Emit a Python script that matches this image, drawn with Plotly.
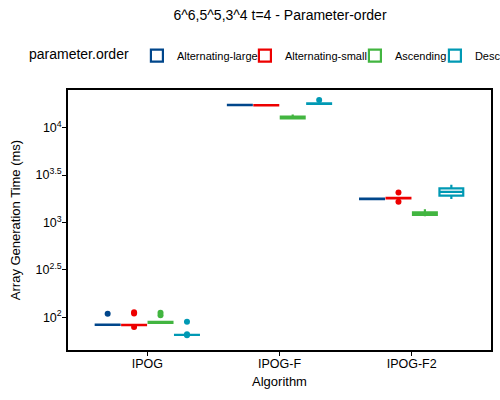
import plotly.graph_objects as go

algorithms = ["IPOG", "IPOG-F", "IPOG-F2"]
series_names = ["Alternating-large", "Alternating-small", "Ascending", "Descending"]
series_colors = ["#00468B", "#ED0000", "#42B540", "#0099B4"]

# observed array generation times (ms), per algorithm, per parameter order
alt_large = {
    "IPOG": [82.9, 83.1, 83.2, 83.3, 83.4, 83.4, 83.5, 83.6, 83.7, 83.9, 109],
    "IPOG-F": [17200, 17280, 17300, 17320, 17340, 17340, 17360, 17380, 17400, 17480],
    "IPOG-F2": [1755, 1765, 1768, 1772, 1775, 1776, 1778, 1782, 1785, 1795],
}
alt_small = {
    "IPOG": [79.0, 82.5, 82.6, 82.7, 82.8, 82.8, 82.9, 83.0, 83.1, 83.2, 110, 113],
    "IPOG-F": [17080, 17160, 17180, 17200, 17220, 17220, 17240, 17260, 17280, 17360],
    "IPOG-F2": [1652, 1795, 1798, 1802, 1806, 1808, 1811, 1815, 1818, 2070],
}
ascending = {
    "IPOG": [85.8, 86.5, 87.0, 87.5, 88.0, 88.0, 88.5, 89.0, 89.5, 90.2, 105, 112],
    "IPOG-F": [12300, 12450, 12550, 12650, 12740, 12740, 12900, 13050, 13200, 13800],
    "IPOG-F2": [1161, 1190, 1200, 1215, 1250, 1256, 1265, 1280, 1300, 1384],
}
descending = {
    "IPOG": [64.6, 65.4, 65.45, 65.48, 65.5, 65.5, 65.52, 65.55, 65.6, 66.4, 90],
    "IPOG-F": [17700, 17800, 17830, 17870, 17900, 17900, 17930, 17970, 18000, 18100, 19600],
    "IPOG-F2": [1774, 1900, 1925, 1990, 2104, 2104, 2200, 2290, 2310, 2495],
}
all_series = [alt_large, alt_small, ascending, descending]
legend_widths = [63, 65, 35, 30]

tick_vals = [100, 316.2278, 1000, 3162.278, 10000]
tick_text = ["10<sup>2</sup>", "10<sup>2.5</sup>", "10<sup>3</sup>", "10<sup>3.5</sup>", "10<sup>4</sup>"]

FONT = "Liberation Sans, Arial, sans-serif"

fig = go.Figure()
for name, color, data, lw in zip(series_names, series_colors, all_series, legend_widths):
    xs, ys = [], []
    for alg in algorithms:
        xs += [alg] * len(data[alg])
        ys += data[alg]
    fig.add_trace(go.Box(
        x=xs, y=ys, name=name,
        line=dict(color=color, width=2.2),
        fillcolor="white",
        marker=dict(color=color, size=6, line=dict(width=0)),
        boxpoints="outliers",
        whiskerwidth=0,
        legendwidth=lw,
    ))

fig.update_layout(
    width=500, height=400,
    margin=dict(l=68, r=9, t=90, b=50, autoexpand=False),
    paper_bgcolor="white", plot_bgcolor="white",
    font=dict(family=FONT, color="black", size=13),
    boxmode="group", boxgap=0.2, boxgroupgap=0.1,
    title=dict(text="6^6,5^5,3^4 t=4 - Parameter-order", x=0.56, xanchor="center",
               y=0.962, yanchor="middle", font=dict(size=14, color="black")),
    legend=dict(
        orientation="h", x=-0.097, xanchor="left", y=1.132, yanchor="middle",
        title=dict(text="parameter.order", font=dict(size=14), side="left"),
        font=dict(size=11), itemwidth=30, bgcolor="rgba(0,0,0,0)",
    ),
    xaxis=dict(
        title=dict(text="Algorithm", font=dict(size=13), standoff=7),
        categoryorder="array", categoryarray=algorithms,
        range=[-0.6, 2.6],
        showline=True, linecolor="black", linewidth=1.6, mirror=True,
        ticks="outside", ticklen=4, tickcolor="black", tickwidth=1,
        tickfont=dict(size=12.5), showgrid=False, zeroline=False,
        ticklabelstandoff=-3,
    ),
    yaxis=dict(
        title=dict(text="Array Generation Time (ms)", font=dict(size=13), standoff=12),
        type="log", range=[1.656, 4.397],
        tickvals=tick_vals, ticktext=tick_text,
        showline=True, linecolor="black", linewidth=1.6, mirror=True,
        ticks="outside", ticklen=4, tickcolor="black", tickwidth=1,
        tickfont=dict(size=12.5), showgrid=False, zeroline=False,
        ticklabelstandoff=-2,
    ),
)

fig.write_html("out.html", config={"displayModeBar": False},
               post_script="document.body.style.margin='0';")
